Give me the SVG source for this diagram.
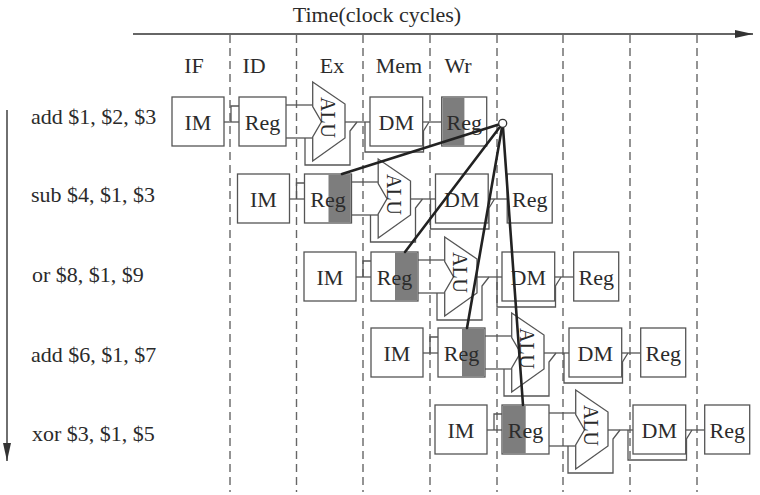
<svg xmlns="http://www.w3.org/2000/svg" width="760" height="495" viewBox="0 0 760 495">
<style>
text{font-family:"Liberation Serif","Times New Roman",serif;fill:#2b2b2b}
.t{font-size:22px}
.c{text-anchor:middle}
.alu{font-size:20px;text-anchor:middle}
.box{fill:#fff;stroke:#555;stroke-width:1.3}
.shade{fill:#7d7d7d;stroke:none}
.w{fill:none;stroke:#555;stroke-width:1.3}
.dash{stroke:#666;stroke-width:1.4;stroke-dasharray:8 5;fill:none}
.axis{stroke:#333;stroke-width:1.4;fill:none}
.fwd{stroke:#222;stroke-width:2.6;fill:none;stroke-linecap:round}
</style>
<defs>
<marker id="ah" viewBox="0 0 18 8" refX="18" refY="4" markerWidth="18" markerHeight="8" markerUnits="userSpaceOnUse" orient="auto">
<path d="M0,0 L18,4 L0,8 Z" fill="#333"/>
</marker>
<g id="wires">
<line class="w" x1="224" y1="122" x2="239" y2="122"/>
<polyline class="w" points="231,122 231,106 239,106"/>
<line class="w" x1="286" y1="105" x2="312.7" y2="105"/>
<line class="w" x1="286" y1="138" x2="312.7" y2="138"/>
<polyline class="w" points="305,138 305,165 350,165 350,131 357,122"/>
<line class="w" x1="345" y1="122" x2="370" y2="122"/>
<polyline class="w" points="365,122 365,152 423.5,152 423.5,131 429,122"/>
<line class="w" x1="422.7" y1="122" x2="441.7" y2="122"/>
</g>
</defs>

<g id="axes">
<text class="t c" x="377" y="22">Time(clock cycles)</text>
<line class="axis" x1="133" y1="34" x2="753" y2="34" marker-end="url(#ah)"/>
<line class="axis" x1="7" y1="110" x2="7" y2="461" marker-end="url(#ah)"/>
</g>

<g id="cycle-lines">
<line class="dash" x1="230" y1="35" x2="230" y2="492"/>
<line class="dash" x1="296.5" y1="35" x2="296.5" y2="492"/>
<line class="dash" x1="363" y1="35" x2="363" y2="492"/>
<line class="dash" x1="430" y1="35" x2="430" y2="492"/>
<line class="dash" x1="497" y1="35" x2="497" y2="492"/>
<line class="dash" x1="563" y1="35" x2="563" y2="492"/>
<line class="dash" x1="630" y1="35" x2="630" y2="492"/>
<line class="dash" x1="697" y1="35" x2="697" y2="492"/>
</g>

<g id="stage-labels">
<text class="t c" x="194" y="72.5">IF</text>
<text class="t c" x="254" y="72.5">ID</text>
<text class="t c" x="332" y="72.5">Ex</text>
<text class="t c" x="399" y="72.5">Mem</text>
<text class="t c" x="458" y="72.5">Wr</text>
</g>

<g id="instr-labels">
<text class="t" x="31" y="124">add $1, $2, $3</text>
<text class="t" x="31" y="202">sub $4, $1, $3</text>
<text class="t" x="32" y="282">or $8, $1, $9</text>
<text class="t" x="31" y="362">add $6, $1, $7</text>
<text class="t" x="32" y="441">xor $3, $1, $5</text>
</g>

<g id="connectors">
<use href="#wires"/>
<use href="#wires" transform="translate(65.5,77)"/>
<use href="#wires" transform="translate(132,155)"/>
<use href="#wires" transform="translate(199,231)"/>
<use href="#wires" transform="translate(263,308)"/>
</g>

<g id="row1">
<g id="r1-im"><rect class="box" x="172" y="97" width="52" height="49"/><text class="t c" x="198" y="130">IM</text></g>
<g id="r1-reg"><rect class="box" x="239" y="97" width="47" height="49"/><text class="t c" x="262.5" y="130">Reg</text></g>
<g id="r1-alu"><polygon class="box" points="312.7,82 345,104 345,138 312.7,161 312.7,137 321.5,121.7 312.7,106.5"/><text class="alu" transform="translate(321,117.5) rotate(90)">ALU</text></g>
<g id="r1-dm"><rect class="box" x="370" y="97" width="52.7" height="49"/><text class="t c" x="396.3" y="130">DM</text></g>
<g id="r1-wr"><rect class="box" x="441.7" y="97" width="45" height="49"/><rect class="shade" x="442.4" y="97.7" width="22" height="47.6"/><text class="t c" x="464.2" y="130">Reg</text></g>
</g>

<g id="row2" transform="translate(65.5,77)">
<g id="r2-im"><rect class="box" x="172" y="97" width="52" height="49"/><text class="t c" x="198" y="130">IM</text></g>
<g id="r2-reg"><rect class="box" x="239" y="97" width="47" height="49"/><rect class="shade" x="263" y="97.7" width="22.3" height="47.6"/><text class="t c" x="262.5" y="130">Reg</text></g>
<g id="r2-alu"><polygon class="box" points="312.7,82 345,104 345,138 312.7,161 312.7,137 321.5,121.7 312.7,106.5"/><text class="alu" transform="translate(321,117.5) rotate(90)">ALU</text></g>
<g id="r2-dm"><rect class="box" x="370" y="97" width="52.7" height="49"/><text class="t c" x="396.3" y="130">DM</text></g>
<g id="r2-wr"><rect class="box" x="441.7" y="97" width="45" height="49"/><text class="t c" x="464.2" y="130">Reg</text></g>
</g>

<g id="row3" transform="translate(132,155)">
<g id="r3-im"><rect class="box" x="172" y="97" width="52" height="49"/><text class="t c" x="198" y="130">IM</text></g>
<g id="r3-reg"><rect class="box" x="239" y="97" width="47" height="49"/><rect class="shade" x="263" y="97.7" width="22.3" height="47.6"/><text class="t c" x="262.5" y="130">Reg</text></g>
<g id="r3-alu"><polygon class="box" points="312.7,82 345,104 345,138 312.7,161 312.7,137 321.5,121.7 312.7,106.5"/><text class="alu" transform="translate(321,117.5) rotate(90)">ALU</text></g>
<g id="r3-dm"><rect class="box" x="370" y="97" width="52.7" height="49"/><text class="t c" x="396.3" y="130">DM</text></g>
<g id="r3-wr"><rect class="box" x="441.7" y="97" width="45" height="49"/><text class="t c" x="464.2" y="130">Reg</text></g>
</g>

<g id="row4" transform="translate(199,231)">
<g id="r4-im"><rect class="box" x="172" y="97" width="52" height="49"/><text class="t c" x="198" y="130">IM</text></g>
<g id="r4-reg"><rect class="box" x="239" y="97" width="47" height="49"/><rect class="shade" x="263" y="97.7" width="22.3" height="47.6"/><text class="t c" x="262.5" y="130">Reg</text></g>
<g id="r4-alu"><polygon class="box" points="312.7,82 345,104 345,138 312.7,161 312.7,137 321.5,121.7 312.7,106.5"/><text class="alu" transform="translate(321,117.5) rotate(90)">ALU</text></g>
<g id="r4-dm"><rect class="box" x="370" y="97" width="52.7" height="49"/><text class="t c" x="396.3" y="130">DM</text></g>
<g id="r4-wr"><rect class="box" x="441.7" y="97" width="45" height="49"/><text class="t c" x="464.2" y="130">Reg</text></g>
</g>

<g id="row5" transform="translate(263,308)">
<g id="r5-im"><rect class="box" x="172" y="97" width="52" height="49"/><text class="t c" x="198" y="130">IM</text></g>
<g id="r5-reg"><rect class="box" x="239" y="97" width="47" height="49"/><rect class="shade" x="239.7" y="97.7" width="23" height="47.6"/><text class="t c" x="262.5" y="130">Reg</text></g>
<g id="r5-alu"><polygon class="box" points="312.7,82 345,104 345,138 312.7,161 312.7,137 321.5,121.7 312.7,106.5"/><text class="alu" transform="translate(321,117.5) rotate(90)">ALU</text></g>
<g id="r5-dm"><rect class="box" x="370" y="97" width="52.7" height="49"/><text class="t c" x="396.3" y="130">DM</text></g>
<g id="r5-wr"><rect class="box" x="441.7" y="97" width="45" height="49"/><text class="t c" x="464.2" y="130">Reg</text></g>
</g>

<g id="forwarding">
<line class="fwd" x1="502.7" y1="123.3" x2="342" y2="174"/>
<line class="fwd" x1="502.7" y1="123.3" x2="405" y2="252"/>
<line class="fwd" x1="502.7" y1="123.3" x2="467" y2="328"/>
<line class="fwd" x1="502.7" y1="123.3" x2="523" y2="405"/>
<circle cx="502.7" cy="123.3" r="4" fill="#fff" stroke="#333" stroke-width="1.3"/>
</g>
</svg>
